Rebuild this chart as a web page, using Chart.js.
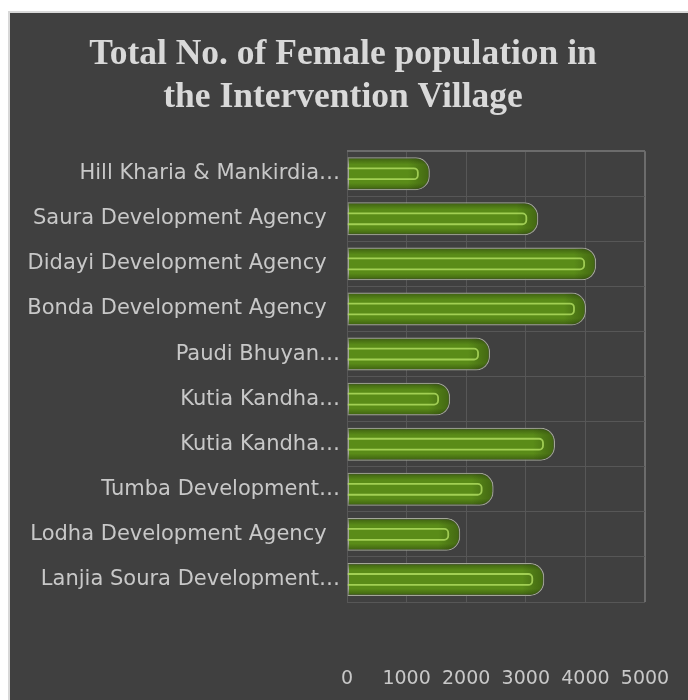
<!DOCTYPE html>
<html>
<head>
<meta charset="utf-8">
<script src="https://cdn.jsdelivr.net/npm/chart.js@4"></script>
<style>
  html, body { margin: 0; padding: 0; background: #ffffff; }
  #panel {
    position: absolute; left: 8px; top: 11px;
    width: 678px; height: 687px;
    border-left: 2px solid #d8d8d8; border-top: 2px solid #d8d8d8;
    background: #404040;
  }
  canvas { display: block; }
</style>
</head>
<body>
<div id="panel"><canvas id="myChart" width="678" height="687"></canvas></div>
<script>
// Datos
const agencias = [
    'Hill Kharia & Mankirdia…',
    'Saura Development Agency  ',
    'Didayi Development Agency  ',
    'Bonda Development Agency  ',
    'Paudi Bhuyan…',
    'Kutia Kandha…',
    'Kutia Kandha…',
    'Tumba Development…',
    'Lodha Development Agency  ',
    'Lanjia Soura Development…'
];
const poblacionFemenina = [1390, 3210, 4180, 4010, 2400, 1730, 3490, 2460, 1900, 3310];
const ticksX = [0, 1000, 2000, 3000, 4000, 5000];

const fuente = 'DejaVu Sans';

// Plugin para dar el relieve verde a cada barra
const relieveBarras = {
    id: 'relieveBarras',
    afterDatasetsDraw(chart) {
        const c = chart.ctx;
        const meta = chart.getDatasetMeta(0);
        meta.data.forEach(el => {
            const top = el.y - el.height / 2;
            const bottom = el.y + el.height / 2;
            const left = el.base;
            const right = el.x;
            const r = Math.min(14, el.height / 2);

            c.save();
            // contorno redondeado para recortar
            c.beginPath();
            c.moveTo(left, top + 1);
            c.lineTo(right - r, top + 1);
            c.arcTo(right - 1, top + 1, right - 1, top + r, r - 1);
            c.lineTo(right - 1, bottom - r);
            c.arcTo(right - 1, bottom - 1, right - r, bottom - 1, r - 1);
            c.lineTo(left, bottom - 1);
            c.closePath();
            c.clip();

            const g = c.createLinearGradient(0, top, 0, bottom);
            g.addColorStop(0, 'rgba(30,45,10,0.5)');
            g.addColorStop(0.22, 'rgba(30,45,10,0)');
            g.addColorStop(0.78, 'rgba(30,45,10,0)');
            g.addColorStop(1, 'rgba(30,45,10,0.5)');
            c.fillStyle = g;
            c.fillRect(left, top, right - left, bottom - top);

            const gx = c.createLinearGradient(right - 22, 0, right, 0);
            gx.addColorStop(0, 'rgba(30,45,10,0)');
            gx.addColorStop(1, 'rgba(30,45,10,0.4)');
            c.fillStyle = gx;
            c.fillRect(right - 22, top, 22, bottom - top);

            // franja interior clara
            const t1 = top + 11, b1 = bottom - 11, r1 = right - 12, rr = 4;
            c.beginPath();
            c.moveTo(left, t1);
            c.lineTo(r1 - rr, t1);
            c.arcTo(r1, t1, r1, t1 + rr, rr);
            c.lineTo(r1, b1 - rr);
            c.arcTo(r1, b1, r1 - rr, b1, rr);
            c.lineTo(left, b1);
            c.strokeStyle = 'rgba(180,225,100,0.8)';
            c.lineWidth = 1.8;
            c.stroke();
            c.restore();
        });
    }
};

// quita los rellenos automáticos que Chart.js añade por las etiquetas
function sinRelleno(scale) {
    scale.paddingLeft = 0;
    scale.paddingRight = 0;
    scale.paddingTop = 0;
    scale.paddingBottom = 0;
}

const ctx = document.getElementById('myChart').getContext('2d');
const myChart = new Chart(ctx, {
    type: 'bar',
    data: {
        labels: agencias,
        datasets: [{
            data: poblacionFemenina,
            backgroundColor: '#5a8c18',
            borderColor: '#a3a699',
            borderWidth: 1.5,
            borderSkipped: false,
            borderRadius: { topLeft: 0, bottomLeft: 0, topRight: 14, bottomRight: 14 },
            barPercentage: 0.73,
            categoryPercentage: 1
        }]
    },
    options: {
        indexAxis: 'y',
        responsive: false,
        animation: false,
        devicePixelRatio: 1,
        layout: { padding: { left: 0, right: 12, top: 0, bottom: 11 } },
        plugins: {
            legend: { display: false },
            tooltip: { enabled: false },
            title: {
                display: true,
                text: ['Total No. of Female population in', 'the Intervention Village'],
                color: '#d9d9d9',
                font: { family: 'Liberation Serif', weight: 'bold', size: 35.5, lineHeight: 1.2 },
                padding: { top: 21, bottom: 32 }
            }
        },
        scales: {
            x: {
                min: 0,
                max: 5000,
                afterBuildTicks: scale => { scale.ticks = ticksX.map(v => ({ value: v })); },
                afterFit: scale => { sinRelleno(scale); scale.height = 87; },
                ticks: {
                    color: '#c8c8c8',
                    font: { family: fuente, size: 19 },
                    padding: 66,
                    maxRotation: 0,
                    minRotation: 0,
                    autoSkip: false,
                    callback: v => String(v)
                },
                grid: {
                    drawTicks: false,
                    color: c => (c.tick && c.tick.value === 5000) ? '#6c6c6c' : '#575757',
                    lineWidth: c => (c.tick && c.tick.value === 5000) ? 2 : 1
                },
                border: { display: false }
            },
            y: {
                afterFit: scale => { sinRelleno(scale); scale.width = 337; },
                ticks: { color: '#c8c8c8', font: { family: fuente, size: 21 }, padding: 7 },
                grid: {
                    drawTicks: false,
                    color: c => c.index === 0 ? '#6c6c6c' : (c.index >= agencias.length ? '#464646' : '#575757'),
                    lineWidth: c => c.index === 0 ? 2 : 1
                },
                border: { display: false }
            },
            // eje vacío a la derecha para dejar el margen del original
            margenDerecho: {
                axis: 'y',
                type: 'category',
                position: 'right',
                afterFit: scale => { sinRelleno(scale); scale.width = 31; },
                ticks: { display: false },
                grid: { display: false },
                border: { display: false }
            }
        }
    },
    plugins: [relieveBarras]
});
</script>
</body>
</html>
